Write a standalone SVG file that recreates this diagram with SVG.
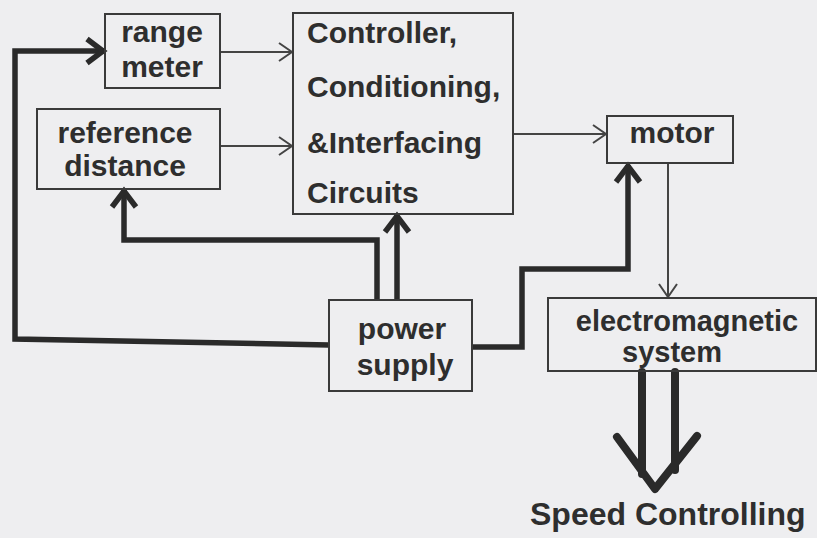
<svg xmlns="http://www.w3.org/2000/svg" width="817" height="538" viewBox="0 0 817 538">
<defs>
<style>
.box{fill:none;stroke:#3a3a3a;stroke-width:2}
.t{font-family:"Liberation Sans",Arial,sans-serif;font-weight:bold;font-size:30px;fill:#2e2e2e}
.m{text-anchor:middle}
.thin{fill:none;stroke:#444;stroke-width:2}
.thick{fill:none;stroke:#2a2a2a;stroke-width:5.5;stroke-linejoin:miter}
.big{fill:none;stroke:#2a2a2a;stroke-width:8;stroke-linecap:round;stroke-linejoin:round}
</style>
<marker id="ah" markerUnits="userSpaceOnUse" markerWidth="16" markerHeight="22" refX="14" refY="11" orient="auto">
<path d="M1,2 L14,11 L1,20" fill="none" stroke="#444" stroke-width="2"/>
</marker>
<marker id="ahk" markerUnits="userSpaceOnUse" markerWidth="24" markerHeight="30" refX="20" refY="15" orient="auto">
<path d="M3,3 L19,15 L3,27" fill="none" stroke="#2a2a2a" stroke-width="5.5"/>
</marker>
</defs>
<rect width="817" height="538" fill="#eeeef0"/>
<g id="connectors">
<path class="thin" d="M220,52 L292,52" marker-end="url(#ah)"/>
<path class="thin" d="M220,146 L292,146" marker-end="url(#ah)"/>
<path class="thin" d="M513,134 L606,134" marker-end="url(#ah)"/>
<path class="thin" d="M668,163 L668,297" marker-end="url(#ah)"/>
<path class="thick" d="M329,345 L15,339 L15,51 L104,51" marker-end="url(#ahk)"/>
<path class="thick" d="M377,300 L377,240 L124,240 L124,190" marker-end="url(#ahk)"/>
<path class="thick" d="M397,300 L397,215" marker-end="url(#ahk)"/>
<path class="thick" d="M472,347 L522,347 L522,269 L628,269 L628,165" marker-end="url(#ahk)"/>
<path class="big" d="M642,372 L642,474"/>
<path class="big" d="M675,372 L675,470"/>
<path class="big" d="M617,437 L655,489 L697,436"/>
</g>
<g id="range-meter">
<rect class="box" x="105" y="14" width="115" height="74"/>
<text class="t m" x="162" y="42">range</text>
<text class="t m" x="162" y="77">meter</text>
</g>
<g id="reference-distance">
<rect class="box" x="37" y="109" width="183" height="80"/>
<text class="t m" x="125" y="143">reference</text>
<text class="t m" x="125" y="176">distance</text>
</g>
<g id="controller">
<rect class="box" x="293" y="13" width="220" height="201"/>
<text class="t" x="307" y="43">Controller,</text>
<text class="t" x="307" y="97">Conditioning,</text>
<text class="t" x="307" y="153">&amp;Interfacing</text>
<text class="t" x="307" y="203">Circuits</text>
</g>
<g id="motor">
<rect class="box" x="607" y="116" width="126" height="47"/>
<text class="t m" x="672" y="143">motor</text>
</g>
<g id="power-supply">
<rect class="box" x="329" y="300" width="143" height="91"/>
<text class="t m" x="402" y="339">power</text>
<text class="t m" x="405" y="375">supply</text>
</g>
<g id="electromagnetic-system">
<rect class="box" x="548" y="298" width="268" height="73"/>
<text class="t m" x="687" y="331" style="font-size:29px">electromagnetic</text>
<text class="t m" x="672" y="362" style="font-size:29px">system</text>
</g>
<g id="speed-controlling">
<text class="t" x="530" y="525" style="font-size:32px">Speed Controlling</text>
</g>
</svg>
